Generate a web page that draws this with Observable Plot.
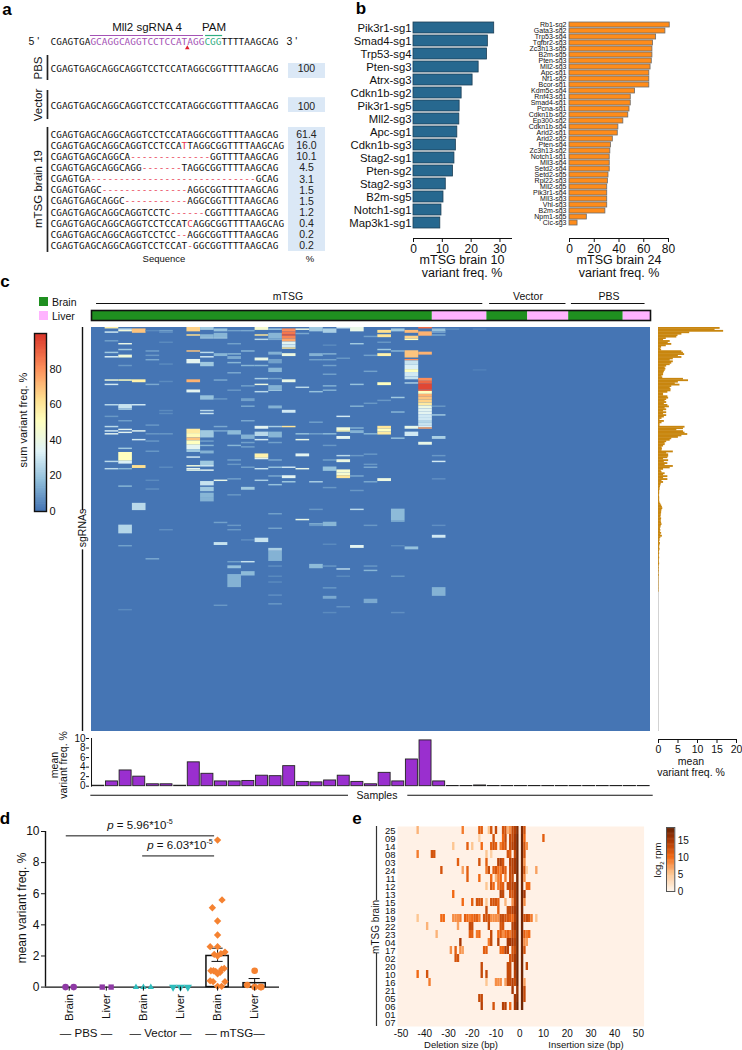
<!DOCTYPE html>
<html><head><meta charset="utf-8">
<style>
html,body{margin:0;padding:0;background:#fff}
#root{position:relative;width:742px;height:1050px;overflow:hidden;font-family:'Liberation Sans',Arial,sans-serif;color:#111}
.lb{position:absolute;white-space:nowrap;line-height:1}
.lb sup,.lb sub{font-size:.62em;line-height:0}
</style>
<script src="https://cdn.jsdelivr.net/npm/d3@7"></script>
<script src="https://cdn.jsdelivr.net/npm/@observablehq/plot@0.6"></script>
</head><body><div id="root"></div>
<script>
/* ---------- panel a ---------- */
const refSeq = "CGAGTGAGCAGGCAGGTCCTCCATAGGCGGTTTTAAGCAG";
const mutantSeqs = [
  "CGAGTGAGCAGGCAGGTCCTCCATAGGCGGTTTTAAGCAG",
  "CGAGTGAGCAGGCAGGTCCTCCATTAGGCGGTTTTAAGCAG",
  "CGAGTGAGCAGGCA--------------GGTTTTAAGCAG",
  "CGAGTGAGCAGGCAGG-------TAGGCGGTTTTAAGCAG",
  "CGAGTGA-----------------------------GCAG",
  "CGAGTGAGC---------------AGGCGGTTTTAAGCAG",
  "CGAGTGAGCAGGC-----------AGGCGGTTTTAAGCAG",
  "CGAGTGAGCAGGCAGGTCCTC------CGGTTTTAAGCAG",
  "CGAGTGAGCAGGCAGGTCCTCCATCAGGCGGTTTTAAGCAG",
  "CGAGTGAGCAGGCAGGTCCTCC--AGGCGGTTTTAAGCAG",
  "CGAGTGAGCAGGCAGGTCCTCCAT-GGCGGTTTTAAGCAG"];
const mutantPct = ["61.4","16.0","10.1","4.5","3.1","1.5","1.5","1.2","0.4","0.2","0.2"];
const redBases = [[1,23],[8,24]];
/* ---------- panel b ---------- */
const brain10Names = ["Pik3r1-sg1","Smad4-sg1","Trp53-sg4","Pten-sg3","Atrx-sg3","Cdkn1b-sg2","Pik3r1-sg5","Mll2-sg3","Apc-sg1","Cdkn1b-sg3","Stag2-sg1","Pten-sg2","Stag2-sg3","B2m-sg5","Notch1-sg1","Map3k1-sg1"];
const brain10Vals = [28,25.8,25.5,22.6,20.5,16.7,16,15.9,15.2,14.7,14.2,13.7,11.2,10.4,9.7,9.3];
const brain24Names = ["Rb1-sg2","Gata3-sg2","Trp53-sg4","Tgfbr2-sg3","Zc3h13-sg5","B2m-sg5","Pten-sg3","Mll2-sg3","Apc-sg1","Nf1-sg2","Bcor-sg1","Kdm5c-sg4","Rnf43-sg1","Smad4-sg1","Pcna-sg1","Cdkn1b-sg2","Ep300-sg2","Cdkn1b-sg4","Arid2-sg1","Arid2-sg2","Pten-sg4","Zc3h13-sg2","Notch1-sg1","Mll3-sg4","Setd2-sg4","Setd2-sg5","Rpl22-sg3","Mll2-sg5","Pik3r1-sg4","Mll3-sg3","Vhl-sg3","B2m-sg3","Npm1-sg5","Cic-sg3"];
const brain24Vals = [81,77.5,70,67.5,67,67,66.5,65.5,64.5,64.5,64.5,53,49.5,49.5,48.5,47.5,43.5,39.5,39,35,33.5,33,32.5,32.5,32.5,31.5,31,30.5,30.5,30.5,30.5,29,14,6.5];
/* ---------- panel c ---------- */
const sampleGroups = [["Brain",25],["Liver",4],["Brain",3],["Liver",3],["Brain",4],["Liver",2]];
const sampleMeans = [0.1,1,3.3,2,0.4,0.4,0.1,5,2.6,1,1,1.1,2.2,2.1,4.2,0.9,0.8,1.2,2.2,0.9,0.4,2.8,1,5.6,9.6,1,0.05,0.05,0.15,0.05,0.05,0.05,0.05,0.05,0.05,0.05,0.05,0.05,0.05,0.05,0.05];
const sgRnaMeans = [15.8,14.5,16.7,8,6,5,4.7,2,1.3,3,2.5,3.4,2,.8,.6,.8,6,6.4,6.7,5.1,6,3.8,3,3.8,3.4,3,2.1,1.7,1.9,1.7,1.5,1.3,1.3,.9,1.1,6.4,7.7,5.1,4.3,5.5,3.4,3,3.2,3.2,2.4,1.3,1.3,2.4,2.6,2.1,1.7,2.1,1.5,2.4,2.8,1.7,2.1,1.3,2.1,1.3,2.1,1.5,.9,.4,1.5,.9,.4,.4,6.8,6.4,4.7,6.4,6.8,7.5,6,5.1,3.4,3,2.1,1.7,1.7,1.3,.9,1,.9,3.8,2.1,2.6,2.6,2.4,1.3,2.6,1.5,2.4,1.7,3.8,3,1.3,.7,.9,1.7,1.3,2.4,1.3,2.4,.9,1.3,.7,.6,.5,.4,.4,.3,.3,.3,.2,.3,.3,.3,.3,.4,.6,.8,1,1.1,.9,.8,.8,.7,.7,.6,.8,.7,.7,.8,.9,.7,.6,.5,.6,.5,.8,.6,1,.6,.4,.4,.3,.5,.4,.3,.3,.4,.3,.2,.3,.2,.2,.3,.2,.2,.2,.3,.2,.1,.2,.1,.2,.1,.1,.2,.1,.1,.1,.1,.1,.1,.1,.1,.1,.1,.1];
/* sparse heat map: per sample, [first sgRNA row, number of rows, sum variant freq.] */
const heatCols = [
 /*0*/[],
 /*1*/[[0,1,55],[3,1,30],[9,1,10],[17,1,20],[20,1,32],[36,1,42],[39,1,30],[53,1,25],[61,1,8],[68,1,25],[71,1,30],[73,1,35],[92,1,25],[97,1,25]],
 /*2*/[[1,1,28],[2,1,42],[11,1,38],[15,1,20],[19,2,42],[26,1,8],[36,1,50],[53,3,28],[56,1,22],[64,1,10],[70,1,35],[72,1,35],[83,1,20],[86,6,50],[92,2,32],[97,1,15],[109,1,15],[136,6,24],[150,1,10],[194,1,5]],
 /*3*/[[1,3,68],[36,2,55],[53,1,30],[71,1,35],[77,1,30],[95,2,62],[121,5,25]],
 /*4*/[[2,1,5],[16,1,10],[19,1,8],[22,1,12],[39,1,12],[67,1,8],[73,1,8],[78,1,8],[85,1,8],[105,1,5],[111,1,6],[159,1,12]],
 /*5*/[[2,1,10],[3,1,7],[10,1,5],[25,1,5],[37,1,5],[57,1,5],[59,1,5],[73,1,8],[96,1,5],[139,1,6]],
 /*6*/[],
 /*7*/[[0,3,65],[5,1,62],[16,1,68],[22,3,35],[36,2,72],[43,2,35],[70,3,58],[73,3,52],[76,2,68],[78,3,50],[81,3,35],[84,2,20],[89,1,30],[95,1,42],[97,1,35],[98,1,38]],
 /*8*/[[0,2,20],[5,2,15],[7,1,20],[17,1,26],[20,1,30],[24,3,20],[47,3,18],[57,1,25],[59,1,28],[71,5,20],[78,1,10],[81,1,15],[85,2,14],[92,3,20],[95,1,30],[98,1,35],[106,3,28],[110,3,20],[114,3,15],[117,3,14]],
 /*9*/[[1,2,18],[4,3,15],[7,1,20],[18,2,15],[36,1,12],[49,1,8],[68,1,12],[71,1,12],[105,1,38],[134,1,10],[148,2,28],[191,1,8]],
 /*10*/[[2,1,10],[11,1,10],[18,1,15],[20,2,12],[24,1,15],[31,1,12],[43,1,8],[71,3,16],[81,1,15],[91,1,10],[94,1,8],[104,1,10],[115,1,8],[136,1,8],[139,1,8],[161,1,10],[164,2,18],[170,9,14]],
 /*11*/[[2,1,12],[16,1,15],[26,1,15],[40,1,10],[49,2,10],[54,1,12],[64,1,12],[74,3,14],[79,1,10],[82,1,10],[96,1,10],[110,2,20],[146,1,6],[161,1,28],[168,3,16]],
 /*12*/[[0,2,45],[5,1,60],[8,1,25],[21,2,38],[26,1,15],[35,1,22],[39,1,40],[44,1,25],[68,2,35],[72,3,25],[77,1,30],[87,3,55],[90,1,35],[97,1,28],[105,1,22],[145,3,28]],
 /*13*/[[1,1,20],[4,4,15],[8,1,12],[17,2,14],[22,3,10],[28,3,15],[35,1,10],[40,2,14],[42,1,14],[43,1,20],[54,2,14],[68,1,22],[72,4,15],[79,1,10],[91,1,12],[96,1,18],[102,1,12],[108,1,18],[128,1,10],[138,1,10],[152,2,22],[154,7,14],[164,1,6],[171,1,5],[175,1,5],[184,1,6],[190,1,8]],
 /*14*/[[1,2,80],[3,2,85],[5,1,92],[6,2,82],[8,2,75],[10,2,35],[12,2,30],[14,1,60],[18,2,40],[36,2,38],[57,2,30],[68,1,60],[96,1,30],[102,2,35],[106,1,20]],
 /*15*/[[1,1,40],[4,1,12],[41,1,25],[73,1,18],[77,1,38],[87,2,35],[97,1,38],[132,1,38]],
 /*16*/[[0,3,20],[18,2,14],[22,1,10],[44,1,18],[65,1,10],[73,1,10],[106,1,22],[125,1,8],[135,1,15],[136,1,8],[163,3,16]],
 /*17*/[[1,3,22],[12,1,5],[18,1,14],[22,1,10],[26,1,10],[32,1,10],[40,1,14],[43,1,14],[73,1,16],[81,1,8],[91,1,10],[96,3,18],[110,1,8],[134,3,15],[149,1,5],[164,1,8],[179,1,8],[185,2,12],[196,1,5]],
 /*18*/[[0,1,30],[21,1,8],[61,1,30],[69,2,42],[71,1,52],[75,2,35],[88,1,25],[91,2,40],[98,2,45],[100,2,45],[102,2,60],[166,1,25],[171,1,5],[192,1,7]],
 /*19*/[[0,3,38],[11,1,20],[39,1,18],[54,1,14],[69,1,14],[71,2,14],[88,1,8],[102,1,12],[112,1,8],[125,1,25],[150,2,35]],
 /*20*/[[6,1,10],[19,1,10],[30,1,10],[52,1,8],[73,1,15],[87,1,8],[94,1,8],[96,1,12],[106,1,12],[136,1,8],[164,1,8],[167,1,15],[187,3,12]],
 /*21*/[[2,2,62],[5,2,60],[10,1,8],[15,1,20],[18,2,55],[38,2,50],[50,1,8],[68,2,60],[70,2,50],[72,2,58],[104,2,40]],
 /*22*/[[1,2,20],[16,1,15],[48,1,20],[58,1,15],[76,1,18],[125,8,16],[133,1,15],[150,1,5],[171,1,8],[196,1,6]],
 /*23*/[[2,2,70],[6,2,65],[8,1,50],[16,5,68],[22,1,80],[23,3,28],[26,3,32],[29,2,50],[31,3,30],[34,2,28],[38,1,22],[68,2,38],[72,3,30],[151,2,18]],
 /*24*/[[0,1,88],[3,3,72],[17,2,72],[35,2,80],[37,2,88],[39,4,95],[43,1,90],[44,2,50],[46,2,72],[48,2,68],[50,2,65],[52,2,58],[54,2,40],[56,2,35],[58,2,35],[60,2,30],[62,2,30],[64,2,24],[66,2,28],[68,1,32],[69,1,75],[79,2,38]],
 /*25*/[[1,2,18],[3,1,12],[5,1,12],[54,1,8],[60,1,20],[75,2,22],[88,1,8],[92,1,30],[104,1,6],[136,1,6],[143,2,30],[179,6,14]],
 /*26*/[[1,1,5]],
 /*27*/[],
 /*28*/[[1,1,4],[29,1,3]]
];
const heatStops = [0,17,33,50,62,80,100];
const heatColors = ["#4575b4","#91bfdb","#e0f3f8","#ffffbf","#fee090","#fc8d59","#d73027"];
/* ---------- panel d ---------- */
const tissues = ["Brain","Liver","Brain","Liver","Brain","Liver"];
const mtsgBrainVals = [9.45,5.6,5.1,4.25,3.35,2.6,2.6,2.25,2.15,2.1,2,1.2,1.15,1.05,1.05,1,.95,.9,.85,.4,.35,.35,.05,.05];
const mtsgBrainJit = [0,.12,-.14,0,0,-.2,0,.2,.09,-.09,0,.18,.11,-.18,-.11,-.05,.07,0,0,-.2,-.12,.2,0,.11];
const mtsgLiverVals = [1.05,.13,0,0,0];
const mtsgLiverJit = [0,-.2,0,.18,.16];
const pbsBrainJit = [-.1,.12]; const pbsLiverJit = [-.11,.13];
const vectorBrainJit = [-.2,0,.2]; const vectorLiverJit = [-.2,0,.2];
/* ---------- panel e ---------- */
const brainIds = ["25","09","14","08","03","24","11","12","13","15","18","19","22","23","04","17","02","20","10","16","21","05","06","01","07"];
const indelRows = [
 [[-43,6],[-24,9],[-17,11],[-16,11],[-13,5],[-12,12],[-10,13],[-7,12],[-6,12],[-5,6],[-4,8],[-3,13],[-2,14],[-1,17],[1,17],[2,12]],
 [[-17,4],[-11,12],[-7,10],[-6,13],[-4,13],[-3,13],[-2,15],[-1,18],[1,18],[2,10],[10,11]],
 [[-28,5],[-22,11],[-20,5],[-16,10],[-12,11],[-11,12],[-10,11],[-8,9],[-7,11],[-6,12],[-4,13],[-3,14],[-2,15],[-1,18],[1,18],[2,12],[3,8]],
 [[-43,9],[-37,12],[-36,12],[-14,5],[-12,4],[-5,12],[-4,11],[-2,13],[-1,18],[1,18],[2,12]],
 [[-26,11],[-17,12],[-14,11],[-9,14],[-8,14],[-7,12],[-4,14],[-3,14],[-2,15],[-1,18],[1,18],[2,8]],
 [[-33,12],[-24,7],[-22,11],[-14,9],[-13,13],[-11,11],[-10,12],[-9,10],[-8,9],[-7,12],[-6,11],[-4,13],[-3,14],[-2,15],[-1,18],[1,18],[2,12],[3,4],[7,7]],
 [[-22,11],[-17,10],[-12,10],[-10,6],[-9,9],[-8,10],[-6,9],[-4,13],[-3,13],[-1,18],[1,18],[2,8]],
 [[-14,5],[-12,12],[-11,10],[-9,9],[-8,11],[-7,11],[-5,13],[-4,13],[-3,14],[-2,14],[-1,18],[1,18],[3,10],[4,10]],
 [[-28,10],[-8,14],[-7,13],[-4,12],[-3,12],[-2,14],[-1,18],[1,18],[2,15]],
 [[-24,10],[-20,11],[-18,12],[-17,12],[-16,12],[-14,5],[-12,12],[-11,12],[-10,12],[-9,11],[-6,6],[-3,8],[-2,14],[-1,18],[1,18],[2,8]],
 [[-14,13],[-9,11],[-5,13],[-4,13],[-3,14],[-2,15],[-1,18],[1,18]],
 [[-43,5],[-33,10],[-32,10],[-28,8],[-27,8],[-26,8],[-25,9],[-23,11],[-22,10],[-21,9],[-20,10],[-19,11],[-18,11],[-17,9],[-15,12],[-14,12],[-13,12],[-12,8],[-11,8],[-10,8],[-9,8],[-8,13],[-7,13],[-6,12],[-5,12],[-4,11],[-3,10],[-2,14],[-1,18],[1,18],[2,12],[3,13],[4,12],[5,9],[7,5]],
 [[-39,6],[-26,7],[-21,13],[-20,13],[-13,13],[-8,12],[-7,12],[-3,14],[-2,15],[-1,18],[1,18]],
 [[-35,6],[-21,11],[-20,11],[-18,9],[-17,10],[-12,13],[-9,10],[-8,11],[-7,8],[-6,10],[-5,11],[-4,9],[-3,13],[-2,13],[-1,18],[1,18],[2,11],[3,9],[4,10]],
 [[-25,15],[-13,9],[-12,13],[-9,14],[-5,15],[-4,15],[-3,15],[-2,14],[-1,18],[1,18],[2,8],[3,7]],
 [[-29,8],[-27,11],[-25,8],[-24,7],[-15,11],[-14,11],[-8,10],[-7,10],[-6,14],[-5,14],[-3,12],[-2,13],[-1,18],[1,18],[2,12]],
 [[-27,12],[-26,12],[-4,12],[-3,13],[-2,15],[-1,18],[1,18]],
 [[-16,13],[-5,13],[-4,13],[-2,15],[-1,18],[1,18],[3,13]],
 [[-43,10],[-39,12],[-16,13],[-14,13],[-5,13],[-4,13],[-2,14],[-1,18],[1,18]],
 [[-38,9],[-14,5],[-10,8],[-9,8],[-8,8],[-6,7],[-5,13],[-4,13],[-3,14],[-2,13],[-1,18],[1,18],[2,7]],
 [[-3,15],[-1,16],[1,18],[2,13]],
 [[-17,13],[-16,13],[-2,15],[-1,17],[1,18],[2,13]],
 [[-16,14],[-11,12],[-7,14],[-6,14],[-4,10],[-2,15],[-1,18],[1,18]],
 [],[]
];
const rpmStops = [0,5,10,15,19];
const rpmColors = ["#fff5eb","#fdc692","#f16813","#a63603","#5f2103"];

/* ---------- helpers ---------- */
const root = document.getElementById("root");
const SANS = "'Liberation Sans',Arial,sans-serif";
const M = 45;
function panel(x0,y0,w,h,opts){
  const svg = Plot.plot({width:w+2*M,height:h+2*M,marginLeft:M,marginRight:M,marginTop:M,marginBottom:M,
    style:{fontFamily:SANS,background:"transparent",overflow:"visible",color:"#111",maxWidth:"none"},...opts});
  svg.style.position="absolute"; svg.style.left=(x0-M)+"px"; svg.style.top=(y0-M)+"px";
  svg.style.width=(w+2*M)+"px"; svg.style.height=(h+2*M)+"px";
  root.append(svg); return svg;
}
function label(html,x,y,o={}){
  const d=document.createElement("div"); d.className="lb"; d.innerHTML=html;
  d.style.left=x+"px"; d.style.top=y+"px"; d.style.fontSize=(o.size||12)+"px";
  if(o.weight) d.style.fontWeight=o.weight;
  if(o.color) d.style.color=o.color;
  const ax=o.anchor==="start"?"0":"-50%";
  d.style.transform=`translate(${ax},-50%)`+(o.rotate?` rotate(${o.rotate}deg)`:"");
  root.append(d);
}
const noAxis={axis:null};

/* ---------- letters ---------- */
[["a",7,9],["b",361,8],["c",5,281],["d",5,818],["e",357,818]].forEach(([t,x,y])=>label(t,x,y,{size:17,weight:"bold",color:"#000"}));

/* ---------- a ---------- */
{
  const chars=(s,row,colorOf)=>Array.from(s,(c,i)=>({c,i,row,col:colorOf(c,i)}));
  const topRow=chars(refSeq,-8.33,(c,i)=>i>=7&&i<27?"#a452b5":i>=27&&i<30?"#2fae82":"#111");
  const ctl=[...chars(refSeq,-5.87,()=>"#111"),...chars(refSeq,-2.54,()=>"#111")];
  const mut=mutantSeqs.flatMap((s,r)=>chars(s,r,(c,i)=>c==="-"||redBases.some(([a,b])=>a===r&&b===i)?"#e8384f":"#111"));
  const all=[...topRow,...ctl,...mut];
  const pct=[{t:"100",r:-5.87},{t:"100",r:-2.54},...mutantPct.map((t,r)=>({t,r}))];
  const bg=[[-6.36,-5.02],[-3.3,-1.97],[-.63,10.48]];
  const seg=[[-7.08,-4.84],[-3.94,-1.34],[-.63,10.57]];
  panel(50,134,228,111.6,{
    x:{domain:[0,40],...noAxis}, y:{domain:[0,10],reverse:true,...noAxis},
    marks:[
      Plot.rect(bg,{x1:41.75,x2:48.25,y1:d=>d[0],y2:d=>d[1],fill:"#dbe8f6"}),
      Plot.text(all,{x:d=>d.i+.5,y:"row",text:"c",fill:"col",fontFamily:"'DejaVu Sans Mono',monospace",fontSize:9.4}),
      Plot.text(pct,{x:44.9,y:"r",text:"t",fontSize:10.5,fill:"#222"}),
      Plot.ruleX(seg,{x:-.53,y1:d=>d[0],y2:d=>d[1],stroke:"#222",strokeWidth:1.7}),
      Plot.ruleY([-8.87],{x1:7,x2:26.84,stroke:"#a452b5",strokeWidth:1.2}),
      Plot.ruleY([-8.87],{x1:27.2,x2:30.2,stroke:"#2fae82",strokeWidth:1.2}),
      Plot.dot([0],{x:24,y:-7.75,symbol:"triangle2",r:2.2,fill:"#e01f30"})
    ]});
  label("Mll2 sgRNA 4",147,28,{size:11.5});
  label("PAM",214,28,{size:11.5});
  label("5 &#39;",34,41,{size:10.5});
  label("3 &#39;",292,41,{size:10.5});
  label("PBS",39,68,{size:11.5,rotate:-90});
  label("Vector",39,105,{size:11.5,rotate:-90});
  label("mTSG brain 19",39,189,{size:11.5,rotate:-90});
  label("Sequence",164,259,{size:9.5});
  label("%",310,259,{size:9.5});
}

/* ---------- b ---------- */
{
  const d10=brain10Names.map((n,i)=>({n,v:brain10Vals[i]}));
  panel(412.7,22,98,216,{
    x:{domain:[0,34]}, y:{domain:brain10Names,paddingInner:.13,paddingOuter:.03,align:0},
    marks:[
      Plot.barX(d10,{x:"v",y:"n",fill:"#27688f",stroke:"#1d3f55",strokeWidth:.8}),
      Plot.frame({anchor:"bottom",stroke:"#111"}),
      Plot.axisX({ticks:[0,10,20,30],tickSize:4,tickPadding:2,fontSize:12,label:null}),
      Plot.axisY({tickSize:0,tickPadding:2,fontSize:11.3,label:null})
    ]});
  label("mTSG brain 10",462,260,{size:12.5});
  label("variant freq. %",462,272.5,{size:12.5});
  const d24=brain24Names.map((n,i)=>({n,v:brain24Vals[i]}));
  panel(569.3,22,99,216,{
    x:{domain:[0,80]}, y:{domain:brain24Names,paddingInner:.12,paddingOuter:.05,align:0},
    marks:[
      Plot.barX(d24,{x:"v",y:"n",fill:"#ff8c1a",stroke:"#6b6b6b",strokeWidth:.8}),
      Plot.frame({anchor:"bottom",stroke:"#111"}),
      Plot.axisX({ticks:[0,20,40,60,80],tickSize:4,tickPadding:2,fontSize:12,label:null}),
      Plot.axisY({tickSize:0,tickPadding:3,fontSize:7,label:null})
    ]});
  label("mTSG brain 24",619,260,{size:12.5});
  label("variant freq. %",619,272.5,{size:12.5});
}

/* ---------- c ---------- */
{
  let s=0; const strip=sampleGroups.map(([g,n])=>{const r={g,a:s,b:s+n}; s+=n; return r;});
  const tint={Brain:"#1f8f20",Liver:"#ffb3ff"};
  panel(91,310,559,10,{
    x:{domain:[0,41],...noAxis}, y:{domain:[0,1],...noAxis},
    marks:[
      Plot.rect(strip,{x1:"a",x2:"b",y1:0,y2:1,fill:d=>tint[d.g]}),
      Plot.frame({stroke:"#111",strokeWidth:1.6}),
      Plot.ruleY([1.7],{x1:.37,x2:28.7,stroke:"#111",strokeWidth:1.2}),
      Plot.ruleY([1.7],{x1:29.2,x2:34.8,stroke:"#111",strokeWidth:1.2}),
      Plot.ruleY([1.7],{x1:35.2,x2:40.6,stroke:"#111",strokeWidth:1.2})
    ]});
  label("mTSG",288,296,{size:10.5});
  label("Vector",528,296,{size:10.5});
  label("PBS",609,296,{size:10.5});
  panel(39,297,9,23,{
    x:{domain:[0,1],...noAxis}, y:{domain:[0,23],reverse:true,...noAxis},
    marks:[Plot.rect([["#1f8f20",0,9],["#ffb3ff",14,23]],{x1:0,x2:1,y1:d=>d[1],y2:d=>d[2],fill:d=>d[0]})]});
  label("Brain",52,301.5,{size:10.5,anchor:"start"});
  label("Liver",52,315.5,{size:10.5,anchor:"start"});

  const cells=heatCols.flatMap((col,c)=>col.map(([r,n,v])=>({c,r,n,v})));
  const colorScale={type:"linear",domain:heatStops,range:heatColors,clamp:true};
  panel(91,327,559,404,{
    x:{domain:[0,41],...noAxis}, y:{domain:[0,278],reverse:true,...noAxis}, color:colorScale,
    marks:[
      Plot.rect([0],{x1:0,x2:41,y1:0,y2:278,fill:"#4575b4"}),
      Plot.rect(cells,{x1:"c",x2:d=>d.c+1,y1:"r",y2:d=>d.r+d.n,fill:"v"})
    ]});
  const ramp=d3.range(0,100,1);
  panel(34,333,12,178,{
    x:{domain:[0,1],...noAxis}, y:{domain:[0,100]}, color:colorScale,
    marks:[
      Plot.rect(ramp,{x1:0,x2:1,y1:d=>d,y2:d=>Math.min(100,d+1.4),fill:d=>d}),
      Plot.frame({stroke:"#111",strokeWidth:1.4}),
      Plot.axisY({anchor:"right",ticks:[0,20,40,60,80],tickSize:0,tickPadding:3,fontSize:11,label:null})
    ]});
  label("sum variant freq. %",23,420,{size:11,rotate:-90});
  panel(82,327,1,404,{
    x:{domain:[0,1],...noAxis}, y:{domain:[0,278],reverse:true,...noAxis},
    marks:[Plot.ruleX([[0,126],[153,278]],{x:0,y1:d=>d[0],y2:d=>d[1],stroke:"#111",strokeWidth:1.4})]});
  label("sgRNAs",82,528,{size:10.5,rotate:-90});

  const rm=sgRnaMeans.map((v,i)=>({v,i}));
  panel(657.5,327,78,404,{
    x:{domain:[0,20],...noAxis}, y:{domain:[0,278],reverse:true,...noAxis},
    marks:[
      Plot.ruleX([0],{stroke:"#c8c8c8",strokeWidth:.8}),
      Plot.rect(rm,{x1:0,x2:"v",y1:"i",y2:d=>d.i+1.25,fill:"#c8860f"})
    ]});
  panel(657.5,737.5,78,1,{
    x:{domain:[0,20]}, y:{domain:[0,1],...noAxis},
    marks:[
      Plot.frame({anchor:"bottom",stroke:"#111"}),
      Plot.axisX({ticks:[0,5,10,15,20],tickSize:4,tickPadding:2,fontSize:10.5,label:null})
    ]});
  label("mean",691,761,{size:10.5});
  label("variant freq. %",691,772,{size:10.5});

  const bm=sampleMeans.map((v,i)=>({v,i}));
  panel(91,738.3,559,47.7,{
    x:{domain:[0,41],...noAxis}, y:{domain:[0,10]},
    marks:[
      Plot.rect(bm,{x1:d=>d.i+.06,x2:d=>d.i+.94,y1:0,y2:"v",fill:"#9a2fcf",stroke:"#222",strokeWidth:.9}),
      Plot.frame({anchor:"left",stroke:"#111"}),
      Plot.axisY({ticks:[0,2,4,6,8,10],tickSize:3,tickPadding:1,fontSize:10,label:null,dx:-2}),
      Plot.ruleY([-1.9],{x1:-.05,x2:18.85,stroke:"#111",strokeWidth:1.2}),
      Plot.ruleY([-1.9],{x1:23.2,x2:41.2,stroke:"#111",strokeWidth:1.2})
    ]});
  label("Samples",377,795,{size:10.5});
  label("mean",54,765,{size:10.5,rotate:-90});
  label("variant freq. %",63,765,{size:10.5,rotate:-90});
}

/* ---------- d ---------- */
{
  const purple="#8f3aa5", teal="#2fbcbc", orange="#f58231";
  const triDown={draw(ctx,size){const h=Math.sqrt(size/(3*Math.sqrt(3)));ctx.moveTo(0,2*h);ctx.lineTo(-Math.sqrt(3)*h,-h);ctx.lineTo(Math.sqrt(3)*h,-h);ctx.closePath();}};
  const pts=(cat,jit,vals)=>jit.map((j,i)=>({x:cat+j,y:vals?vals[i]:0}));
  const x0=-.64, x1=5.67;
  panel(45,830.7,234,155.6,{
    x:{domain:[x0,x1]}, y:{domain:[0,10]},
    marks:[
      Plot.rect([[4,2],[5,.25]],{x1:d=>d[0]-.3,x2:d=>d[0]+.3,y1:0,y2:d=>d[1],fill:"#fff",stroke:"#111",strokeWidth:1.5}),
      Plot.ruleX([[4,1.65,2.5],[5,0,.55]],{x:d=>d[0],y1:d=>d[1],y2:d=>d[2],stroke:"#111",strokeWidth:1}),
      Plot.ruleY([[4,1.65],[4,2.5],[5,.55]],{y:d=>d[1],x1:d=>d[0]-.15,x2:d=>d[0]+.15,stroke:"#111",strokeWidth:1}),
      Plot.ruleX([x0],{stroke:"#111",strokeWidth:1.4}),
      Plot.ruleY([0],{stroke:"#111",strokeWidth:1.4}),
      Plot.dot(pts(0,pbsBrainJit),{x:"x",y:"y",r:3.3,fill:purple}),
      Plot.dot(pts(1,pbsLiverJit),{x:"x",y:"y",r:3.4,symbol:"square2",fill:purple}),
      Plot.dot(pts(2,vectorBrainJit),{x:"x",y:"y",r:3,symbol:"triangle2",fill:teal}),
      Plot.dot(pts(3,vectorLiverJit),{x:"x",y:"y",r:3,symbol:triDown,fill:teal}),
      Plot.dot(pts(4,mtsgBrainJit,mtsgBrainVals),{x:"x",y:"y",r:3.3,symbol:"diamond2",fill:orange}),
      Plot.dot(pts(5,mtsgLiverJit,mtsgLiverVals),{x:"x",y:"y",r:3.3,fill:orange}),
      Plot.ruleY([9.72],{x1:-.08,x2:3.92,stroke:"#111",strokeWidth:1}),
      Plot.ruleY([8.43],{x1:1.98,x2:3.92,stroke:"#111",strokeWidth:1}),
      Plot.axisY({ticks:[0,2,4,6,8,10],tickSize:4,tickPadding:2,fontSize:12,label:null}),
      Plot.axisX({ticks:[0,1,2,3,4,5],tickFormat:i=>tissues[i],tickRotate:-90,tickSize:4,tickPadding:3,fontSize:11.5,label:null})
    ]});
  label("mean variant freq. %",22,908,{size:12,rotate:-90});
  label("<i>p</i> = 5.96*10<sup>-5</sup>",140,826,{size:11.5});
  label("<i>p</i> = 6.03*10<sup>-5</sup>",180,846,{size:11.5});
  label("— PBS —",86,1034,{size:11.5});
  label("— Vector —",160.5,1034,{size:11.5});
  label("— mTSG—",235,1034,{size:11.5});
}

/* ---------- e ---------- */
{
  const cells=indelRows.flatMap((r,i)=>r.map(([bp,v])=>({id:brainIds[i],bp,v})));
  const scale={type:"linear",domain:rpmStops,range:rpmColors};
  panel(396.7,826,246.6,200,{
    x:{domain:[-51.5,52.4]}, y:{domain:brainIds,padding:0}, color:scale,
    marks:[
      Plot.frame({fill:"#fff1e6"}),
      Plot.barX(cells,{x1:d=>d.bp-.3,x2:d=>d.bp+.7,y:"id",fill:"v"}),
      Plot.axisX({ticks:d3.range(-50,51,10),tickFormat:d=>String(d),tickSize:0,tickPadding:3,fontSize:10,label:null}),
      Plot.axisY({tickSize:0,tickPadding:2,fontSize:9.5,label:null})
    ]});
  panel(376,826,1,200,{
    x:{domain:[0,1],...noAxis}, y:{domain:[0,200],reverse:true,...noAxis},
    marks:[Plot.ruleX([[0,74],[127,200]],{x:0,y1:d=>d[0],y2:d=>d[1],stroke:"#333",strokeWidth:1.2})]});
  label("mTSG brain",376,927,{size:10,rotate:-90});
  label("Deletion size (bp)",461,1045,{size:9.5});
  label("Insertion size (bp)",586,1045,{size:9.5});
  const ramp=d3.range(0,19,.25);
  panel(665.7,827,8.3,64,{
    x:{domain:[0,1],...noAxis}, y:{domain:[0,19]}, color:scale,
    marks:[
      Plot.rect(ramp,{x1:0,x2:1,y1:d=>d,y2:d=>Math.min(19,d+.4),fill:d=>d}),
      Plot.frame({stroke:"#555",strokeWidth:1}),
      Plot.axisY({anchor:"right",ticks:[0,5,10,15],tickSize:0,tickPadding:3,fontSize:10,label:null})
    ]});
  label("log<sub>2</sub> rpm",658,860,{size:9.5,rotate:-90});
}
</script></body></html>
